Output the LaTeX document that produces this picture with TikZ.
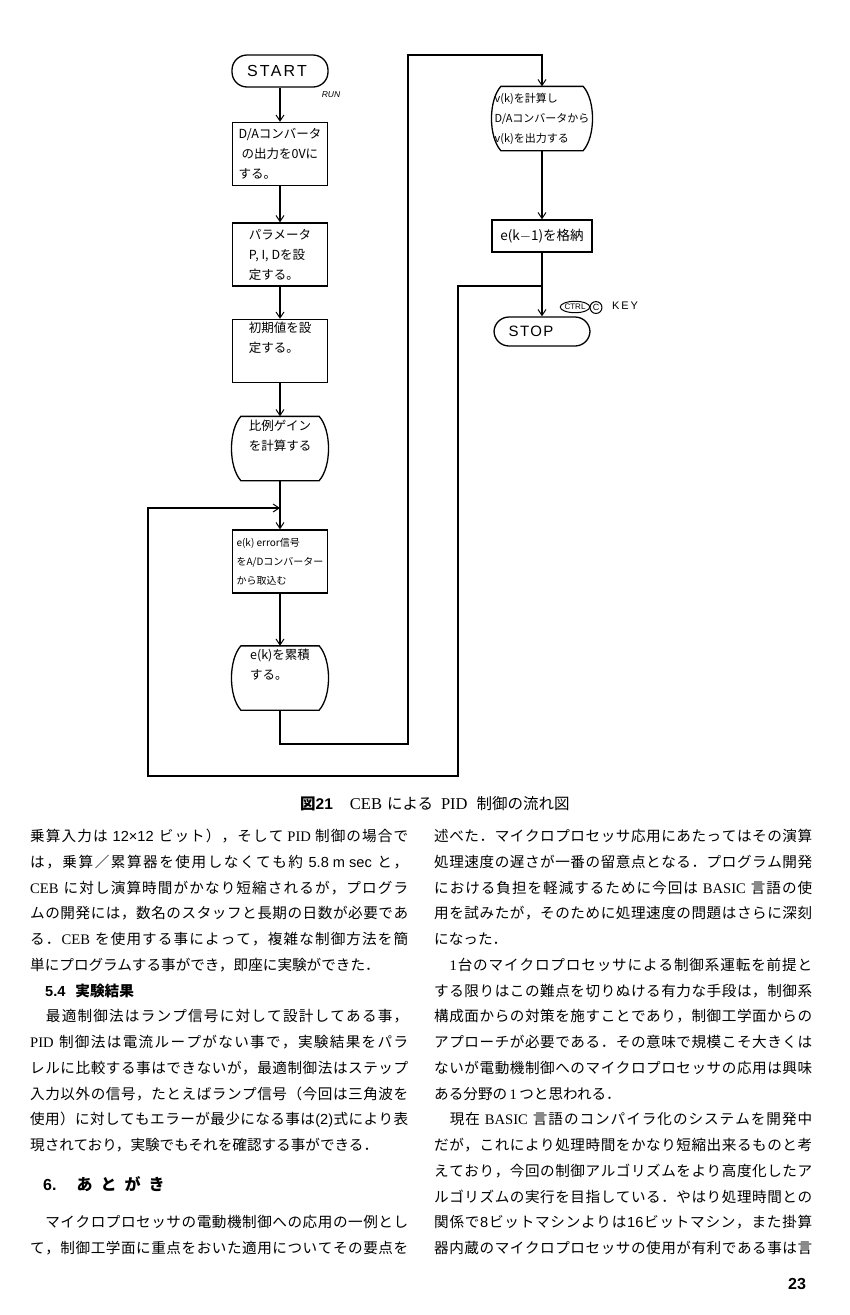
\documentclass[tikz,border=0pt]{standalone}
\usepackage{fontspec}
\usetikzlibrary{arrows.meta,calc,shapes.geometric}
\newfontfamily\jp{Noto Sans CJK JP}
\newfontfamily\lat{Liberation Serif}
\newfontfamily\lats{Liberation Sans}
\newfontfamily\handsp{Liberation Sans}[LetterSpace=14]
\newfontfamily\handst{Liberation Sans}[LetterSpace=9]
% spread the characters of a line evenly over the column width
\def\jspread#1{\jspreadA#1\relax}
\def\jspreadA#1{{#1}\jspreadB}
\def\jspreadB{\futurelet\jsnext\jspreadC}
\def\jspreadC{\ifx\jsnext\relax\expandafter\jsgobble\else\expandafter\jspreadD\fi}
\def\jspreadD#1{\hskip 0pt plus 1fil{#1}\jspreadB}
\def\jsgobble#1{}
\newcommand\JL[1]{\hbox to 378pt{\jspread{#1}}}
\newcommand\bulgeshape[1]{%
  \draw[line width=1.3pt] ($(#1.north west)+(9,0)$) -- ($(#1.north east)+(-9,0)$)
    .. controls ($(#1.north east)+(3.5,14)$) and ($(#1.south east)+(3.5,-14)$) .. ($(#1.south east)+(-9,0)$)
    -- ($(#1.south west)+(9,0)$)
    .. controls ($(#1.south west)+(-3.5,-14)$) and ($(#1.north west)+(-3.5,14)$) .. cycle;}
\begin{document}
\begin{tikzpicture}[x=1pt,y=-1pt,
  ln/.style={line width=1.2pt},
  arr/.style={ln,-{Straight Barb[length=6pt,width=8pt,line width=1pt]}},
  pbox/.style={draw,line width=1.3pt,minimum width=95pt,minimum height=63pt,inner sep=2pt,align=left,font=\jp\fontsize{12.5}{20}\selectfont},
  bbox/.style={pbox,draw=none},
  term/.style={draw,line width=1.3pt,rounded corners=15pt,minimum width=96pt,minimum height=32pt,font=\handsp\fontsize{16}{16}\selectfont},
  jl/.style={anchor=base west,inner sep=0pt,font=\jp\fontsize{14.6}{20}\selectfont},
  jn/.style={anchor=base west,inner sep=0pt,font=\jp\fontsize{14.6}{20}\selectfont},
  small/.style={inner sep=0.5pt,font=\lats\fontsize{8}{8}\selectfont}
]
\useasboundingbox (0,0) rectangle (850,1315);
\fill[white] (0,0) rectangle (850,1315);

% ---------- flowchart, left column ----------
\node[term] (start) at (280,71) {START\hspace*{6pt}};
\node[pbox] (b1) at (280,154) {D/Aコンバータ\\\hspace*{3pt}の出力を0Vに\\する。};
\node[pbox] (b2) at (280,254.5) {パラメータ\\P, I, Dを設\\定する。};
\node[pbox] (b3) at (280,351) {初期値を設\\定する。\\[8pt]};
\node[bbox] (b4) at (280,448.5) {比例ゲイン\\を計算する\\[6pt]};
\bulgeshape{b4}
\node[pbox,font=\jp\fontsize{10}{19}\selectfont] (b5) at (280,561.5) {e(k) error信号\\をA/Dコンバーター\\から取込む};
\node[bbox] (b6) at (280,678) {e(k)を累積\\する。\\[8pt]};
\bulgeshape{b6}

% ---------- flowchart, right column ----------
\node[bbox,minimum width=99pt,font=\jp\fontsize{11}{20}\selectfont] (b7) at (542,118.5) {v(k)を計算し\\D/Aコンバータから\\v(k)を出力する};
\bulgeshape{b7}
\node[pbox,minimum width=100pt,minimum height=32pt,font=\jp\fontsize{13.5}{20}\selectfont] (b8) at (542,236) {e(k$-$1)を格納};
\node[term,minimum height=29pt,font=\handst\fontsize{15}{15}\selectfont] (stop) at (542,331.5) {STOP\hspace*{22pt}};

% labels
\node[small,font=\lats\itshape\fontsize{8.5}{8.5}\selectfont] (run) at (331,95) {RUN};
\node[small,ellipse,draw,line width=1pt,inner xsep=0pt,inner ysep=1.2pt] (ctrl) at (575,307) {CTRL};
\node[small,circle,draw,line width=1pt,inner sep=1pt,font=\lats\fontsize{9}{9}\selectfont] (ckey) at (596,307.5) {C};
\node[small,font=\lats\fontsize{11}{11}\selectfont] (key) at (625,306) {K\,E\,Y};

% connector coordinates
\coordinate (jn) at (280,508);
\coordinate (c2) at (408,744);
\coordinate (c3) at (408,55);
\coordinate (jr) at (542,286);
\coordinate (l2) at (458,776);
\coordinate (l4) at (148,776);

\draw[arr] (start.south) -- (b1.north);
\draw[arr] (b1.south) -- (b2.north);
\draw[arr] (b2.south) -- (b3.north);
\draw[arr] (b3.south) -- (b4.north);
\draw[arr] (b4.south) -- (b5.north);
\draw[arr] (b5.south) -- (b6.north);
\draw[arr] (b6.south) |- (c2) -- (c3) -| (b7.north);
\draw[arr] (b7.south) -- (b8.north);
\draw[arr] (b8.south) -- (stop.north);
\draw[arr] (jr) -| (l2) -- (l4) |- (jn);

% ---------- caption ----------
\node[anchor=base west,inner sep=0pt,font=\jp\fontsize{15.5}{16}\selectfont] (cap) at (300,809)
  {{\bfseries 図}{\lats\bfseries 21}\hspace{17pt}{\lat\fontsize{16.5}{16}\selectfont CEB}\hspace{5pt}による\hspace{8pt}{\lat\fontsize{16.5}{16}\selectfont PID}\hspace{9pt}制御の流れ図};

% ---------- left column ----------
\node[jl] (L1) at (30,841.5) {\JL{乗算入力は{\kern4pt\lats 12×12\kern4pt}ビット），そして{\kern3pt\lat PID\kern3pt}制御の場合で}};
\node[jl] (L2) at (30,867.25) {\JL{は，乗算／累算器を使用しなくても約{\kern4pt\lats 5.8 m sec\kern4pt}と，}};
\node[jl] (L3) at (30,893) {\JL{{\lat CEB\kern4pt}に対し演算時間がかなり短縮されるが，プログラ}};
\node[jl] (L4) at (30,918.75) {\JL{ムの開発には，数名のスタッフと長期の日数が必要であ}};
\node[jl] (L5) at (30,944.5) {\JL{る．{\lat CEB\kern4pt}を使用する事によって，複雑な制御方法を簡}};
\node[jn] (L6) at (30,970.25) {単にプログラムする事ができ，即座に実験ができた．};
\node[jn] (H7) at (45,996) {{\lats\bfseries 5.4}\hspace{10pt}{\bfseries 実験結果}};
\node[jl] (L8) at (30,1021.75) {\JL{　最適制御法はランプ信号に対して設計してある事，}};
\node[jl] (L9) at (30,1047.5) {\JL{{\lat PID\kern4pt}制御法は電流ループがない事で，実験結果をパラ}};
\node[jl] (L10) at (30,1073.25) {\JL{レルに比較する事はできないが，最適制御法はステップ}};
\node[jl] (L11) at (30,1099) {\JL{入力以外の信号，たとえばランプ信号（今回は三角波を}};
\node[jl] (L12) at (30,1124.75) {\JL{使用）に対してもエラーが最少になる事は{\lats (2)}式により表}};
\node[jn] (L13) at (30,1150.5) {現されており，実験でもそれを確認する事ができる．};
\node[jn,font=\jp\bfseries\fontsize{16}{20}\selectfont] (H14) at (43,1190) {{\lats 6.}\hspace{20pt}あ\hspace{8pt}と\hspace{8pt}が\hspace{8pt}き};
\node[jl] (L16) at (30,1227.75) {\JL{　マイクロプロセッサの電動機制御への応用の一例とし}};
\node[jl] (L17) at (30,1253.5) {\JL{て，制御工学面に重点をおいた適用についてその要点を}};

% ---------- right column ----------
\node[jl] (R1) at (434,841.5) {\JL{述べた．マイクロプロセッサ応用にあたってはその演算}};
\node[jl] (R2) at (434,867.25) {\JL{処理速度の遅さが一番の留意点となる．プログラム開発}};
\node[jl] (R3) at (434,893) {\JL{における負担を軽減するために今回は{\kern4pt\lat BASIC\kern4pt}言語の使}};
\node[jl] (R4) at (434,918.75) {\JL{用を試みたが，そのために処理速度の問題はさらに深刻}};
\node[jn] (R5) at (434,944.5) {になった．};
\node[jl] (R6) at (434,970.25) {\JL{　{\lat 1}台のマイクロプロセッサによる制御系運転を前提と}};
\node[jl] (R7) at (434,996) {\JL{する限りはこの難点を切りぬける有力な手段は，制御系}};
\node[jl] (R8) at (434,1021.75) {\JL{構成面からの対策を施すことであり，制御工学面からの}};
\node[jl] (R9) at (434,1047.5) {\JL{アプローチが必要である．その意味で規模こそ大きくは}};
\node[jl] (R10) at (434,1073.25) {\JL{ないが電動機制御へのマイクロプロセッサの応用は興味}};
\node[jn] (R11) at (434,1099) {ある分野の{\lat\,1\,}つと思われる．};
\node[jl] (R12) at (434,1124.75) {\JL{　現在{\kern4pt\lat BASIC\kern4pt}言語のコンパイラ化のシステムを開発中}};
\node[jl] (R13) at (434,1150.5) {\JL{だが，これにより処理時間をかなり短縮出来るものと考}};
\node[jl] (R14) at (434,1176.25) {\JL{えており，今回の制御アルゴリズムをより高度化したア}};
\node[jl] (R15) at (434,1202) {\JL{ルゴリズムの実行を目指している．やはり処理時間との}};
\node[jl] (R16) at (434,1227.75) {\JL{関係で{\lats 8}ビットマシンよりは{\lats 16}ビットマシン，また掛算}};
\node[jl] (R17) at (434,1253.5) {\JL{器内蔵のマイクロプロセッサの使用が有利である事は言}};

\node[inner sep=0pt,font=\lats\bfseries\fontsize{16}{16}\selectfont] (pg) at (797,1284) {23};
\end{tikzpicture}
\end{document}
